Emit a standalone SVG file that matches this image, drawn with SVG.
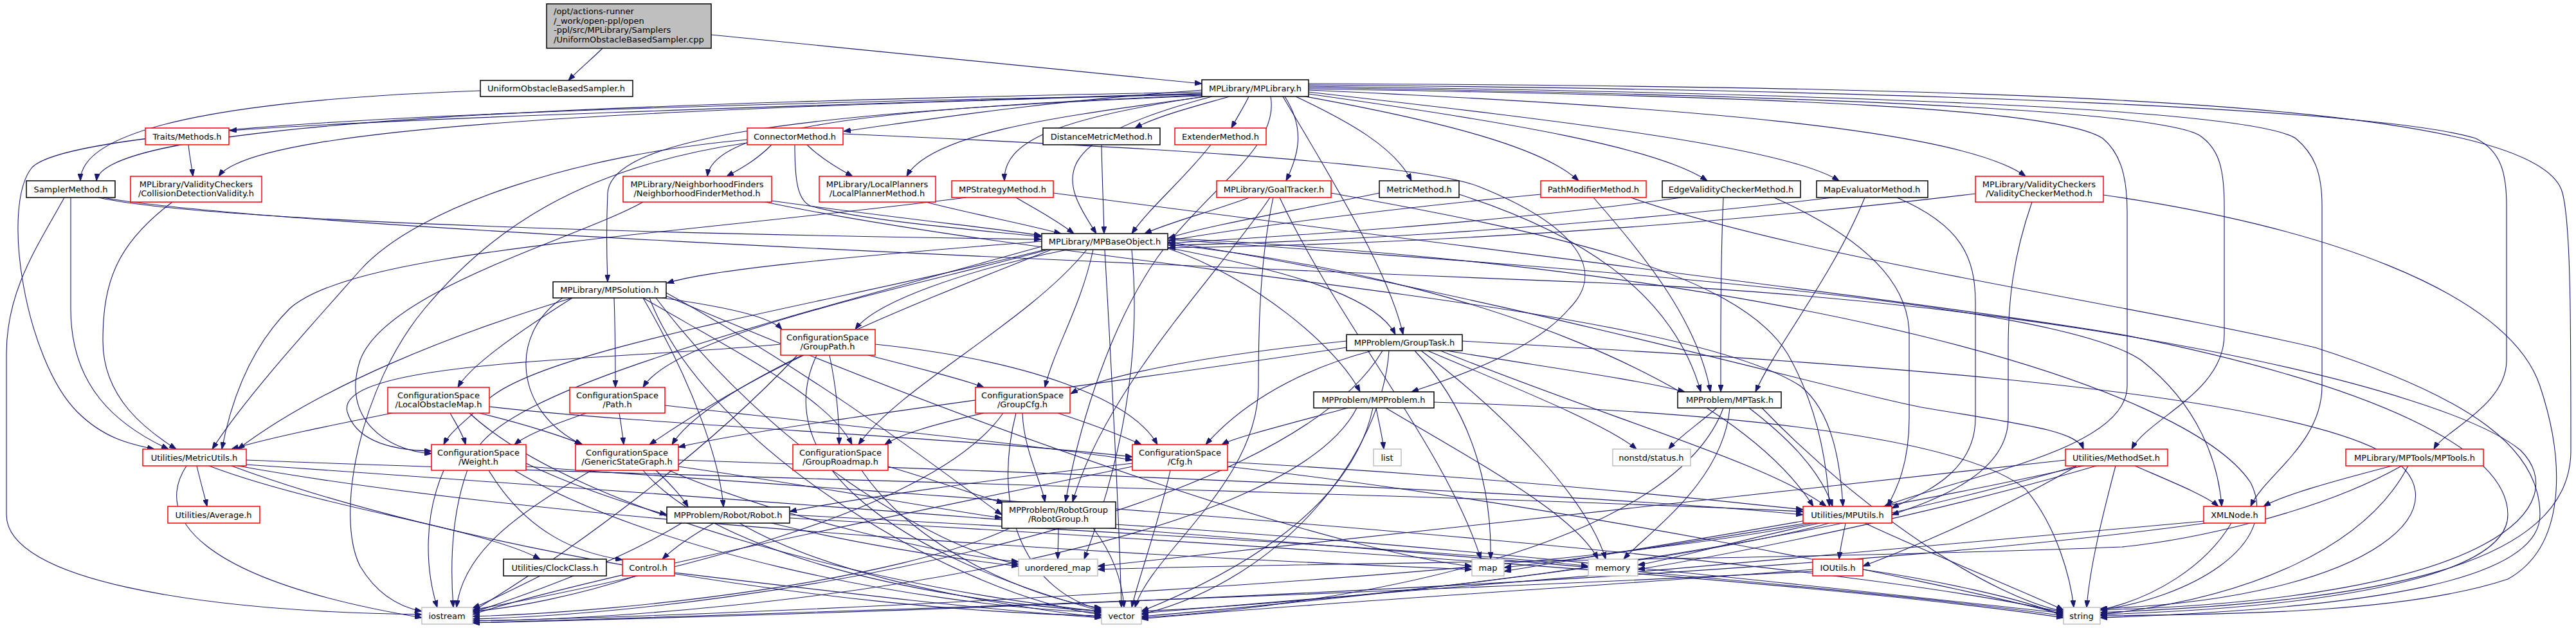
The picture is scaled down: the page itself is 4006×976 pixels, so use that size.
<svg xmlns="http://www.w3.org/2000/svg" width="4006" height="976" viewBox="0 0 4006 976">
<style>
.n rect{fill:#fff;stroke-width:1.5}
.b rect{stroke:#000}
.r rect{stroke:#f00}
.g rect{stroke:#bfbfbf}
#root rect{fill:#bfbfbf}
text{font-family:"DejaVu Sans","Liberation Sans",Arial,sans-serif;font-size:13px;fill:#000;text-anchor:middle}
text.l{text-anchor:start}
.e path{fill:none;stroke:#191970;stroke-width:1.1;marker-end:url(#a)}
</style>
<defs><marker id="a" markerUnits="userSpaceOnUse" viewBox="0 0 11 8" refX="11" refY="4" markerWidth="11" markerHeight="8" orient="auto"><path d="M0,0 L11,4 L0,8 z" fill="#191970" stroke="#191970"/></marker></defs>
<rect width="4006" height="976" fill="#fff"/>
<g id="edges" class="e">
<path d="M937,75 C920,92 900,108 884,125"/>
<path d="M1106,54 C1400,84 1650,107 1869,130"/>
<path d="M747,141 C350,155 125,200 125,281"/>
<path d="M1869,143 C1000,160 160,185 150,281"/>
<path d="M1869,145 C1200,165 600,185 357,203"/>
<path d="M1869,146 C1100,168 400,190 340,274"/>
<path d="M1869,147 C900,165 120,190 50,260 C0,320 40,560 120,640 C160,680 200,690 240,698"/>
<path d="M1869,140 C1600,160 1450,185 1312,204"/>
<path d="M1869,148 C1350,168 1110,200 1100,274"/>
<path d="M1875,150 C1700,175 1450,200 1410,274"/>
<path d="M1912,150 C1860,165 1800,180 1765,199"/>
<path d="M1942,150 C1935,165 1925,180 1915,199"/>
<path d="M1872,150 C1640,185 1560,220 1562,281"/>
<path d="M1885,150 C1620,220 1650,280 1705,363"/>
<path d="M1998,150 C2030,200 2020,240 2000,281"/>
<path d="M2015,150 C2100,190 2170,230 2195,281"/>
<path d="M2030,150 C2250,190 2400,230 2455,281"/>
<path d="M2035,146 C2350,190 2580,230 2655,281"/>
<path d="M2035,143 C2450,190 2780,230 2860,281"/>
<path d="M2035,140 C2600,165 3050,200 3150,274"/>
<path d="M1869,149 C1200,175 950,220 945,300 C942,370 944,410 945,438"/>
<path d="M1995,150 C2060,260 2160,420 2182,520"/>
<path d="M1976,150 C1990,230 1880,290 1800,400 C1730,500 1680,650 1657,780"/>
<path d="M2035,138 C2800,150 3200,170 3270,215 C3300,240 3308,280 3308,330 L3308,600 C3308,700 3050,740 2930,787"/>
<path d="M2035,136 C2800,148 3350,170 3420,210 C3450,230 3459,260 3459,320 L3459,520 C3459,610 3340,650 3315,698"/>
<path d="M2035,134 C2900,146 3500,170 3570,215 C3600,240 3611,270 3611,320 L3611,600 C3611,690 3520,740 3500,787"/>
<path d="M2035,132 C3000,140 3700,170 3850,215 C3890,235 3898,270 3898,320 L3898,560 C3898,630 3800,670 3785,698"/>
<path d="M2035,130 C3200,135 3950,160 3985,300 C3998,350 3998,500 3998,700 C3998,880 3700,935 3266,952"/>
<path d="M293,225 C295,245 298,258 300,274"/>
<path d="M268,314 C180,380 160,440 160,530 C160,620 230,670 274,698"/>
<path d="M110,307 L110,480 C110,600 180,660 262,698"/>
<path d="M100,307 C60,380 10,450 10,550 L10,800 C10,900 300,950 656,955"/>
<path d="M153,307 C300,340 900,362 1619,372"/>
<path d="M160,307 C400,350 1500,400 2500,440 C3200,470 3800,600 3920,700 C4000,780 3900,930 3266,948"/>
<path d="M1200,225 C1180,245 1160,258 1130,274"/>
<path d="M1255,225 C1275,245 1300,260 1326,274"/>
<path d="M1236,225 C1236,280 1240,310 1260,320 C1350,345 1550,360 1619,368"/>
<path d="M1162,217 C900,240 650,320 560,420 C480,510 380,620 330,698"/>
<path d="M1162,222 C900,260 760,360 660,480 C560,600 520,800 560,880 C590,930 630,945 656,950"/>
<path d="M1311,208 C1700,225 2200,250 2300,290 C2450,350 2500,420 2440,480 C2380,550 2250,590 2195,609"/>
<path d="M1200,312 C1400,340 1550,355 1619,366"/>
<path d="M1190,314 C1700,420 2600,470 2800,600 C2850,640 2862,720 2866,787"/>
<path d="M1000,314 C900,370 600,450 560,560 C530,650 600,700 671,705"/>
<path d="M1440,314 C1500,330 1580,345 1650,363"/>
<path d="M1580,307 C1610,325 1640,340 1670,363"/>
<path d="M1503,307 C1000,370 550,390 450,480 C390,540 360,620 345,698"/>
<path d="M1638,300 C2400,400 3000,470 3300,520 C3700,600 3900,700 3900,800 C3900,900 3600,945 3266,955"/>
<path d="M1713,225 C1714,280 1716,320 1717,363"/>
<path d="M1883,225 C1840,280 1790,320 1760,363"/>
<path d="M1943,307 C1880,330 1820,345 1780,363"/>
<path d="M1975,307 C1900,420 1720,600 1668,780"/>
<path d="M1980,307 C1960,400 1957,500 1957,600 C1957,750 1790,860 1765,944"/>
<path d="M1990,307 C2080,500 2250,700 2303,869"/>
<path d="M2070,300 C2400,360 2700,420 2780,550 C2820,620 2840,700 2845,787"/>
<path d="M2145,300 C2000,330 1880,350 1817,370"/>
<path d="M2269,302 C2450,360 2600,450 2645,609"/>
<path d="M2396,302 C2100,330 1900,360 1817,374"/>
<path d="M2536,307 C2800,400 3300,470 3600,540 C3850,620 3950,700 3950,800 C3950,900 3700,945 3266,960"/>
<path d="M2478,307 C2560,400 2640,500 2660,609"/>
<path d="M2615,307 C2300,350 1950,370 1817,378"/>
<path d="M2759,307 C2900,370 2969,440 2969,520 L2969,650 C2969,720 2950,760 2935,787"/>
<path d="M2680,307 C2675,420 2676,520 2676,609"/>
<path d="M2850,307 C2400,360 2000,378 1817,381"/>
<path d="M2950,307 C3050,350 3072,400 3072,470 L3072,650 C3072,740 2980,770 2942,790"/>
<path d="M2900,307 C2850,430 2760,540 2730,609"/>
<path d="M3072,301 C2500,370 2000,383 1817,385"/>
<path d="M3160,314 C3130,400 3123,470 3123,540 L3123,650 C3123,740 3000,780 2942,800"/>
<path d="M3271,303 C3600,350 3900,450 3950,600 C3990,720 3990,850 3900,900 C3750,950 3500,955 3266,957"/>
<path d="M1620,375 C1300,400 1100,420 1037,440"/>
<path d="M1660,388 C1500,420 1360,470 1330,512"/>
<path d="M1700,388 C1680,480 1640,540 1625,602"/>
<path d="M1690,388 C1600,500 1400,600 1335,691"/>
<path d="M1630,388 C1400,450 1050,520 1000,602"/>
<path d="M1625,388 C1300,470 850,540 760,620 C730,650 700,670 690,691"/>
<path d="M1635,388 C1400,480 1100,600 1045,691"/>
<path d="M1816,385 C2000,420 2140,460 2170,520"/>
<path d="M1816,386 C1950,430 2080,540 2115,609"/>
<path d="M1816,380 C2300,430 2700,600 2820,787"/>
<path d="M1816,376 C2300,450 2900,620 3000,635 C3150,660 3230,670 3240,698"/>
<path d="M1816,372 C2500,420 3200,470 3330,560 C3420,630 3450,720 3455,787"/>
<path d="M1620,383 C1200,500 800,600 740,700 C700,780 700,880 705,944"/>
<path d="M1816,370 C2800,420 3400,600 3500,750 C3550,850 3400,930 3266,948"/>
<path d="M1718,388 C1730,600 1740,800 1744,944"/>
<path d="M1760,388 C1780,600 1720,780 1686,869"/>
<path d="M890,463 C800,520 730,570 712,602"/>
<path d="M955,463 C957,520 957,570 957,602"/>
<path d="M875,463 C790,520 800,640 905,691"/>
<path d="M1030,463 C1150,480 1200,495 1216,512"/>
<path d="M1000,463 C1150,550 1290,620 1325,691"/>
<path d="M890,463 C700,520 500,600 370,698"/>
<path d="M1000,463 C1080,600 1120,720 1125,788"/>
<path d="M1036,455 C1300,600 1500,760 1558,800"/>
<path d="M1010,463 C1100,700 1500,930 1713,955"/>
<path d="M1036,460 C1600,700 2100,860 2289,880"/>
<path d="M1020,463 C1200,700 1450,850 1584,877"/>
<path d="M1350,552 C1420,570 1500,590 1530,602"/>
<path d="M1290,552 C1300,600 1305,650 1305,691"/>
<path d="M1250,552 C1150,600 1070,650 1010,691"/>
<path d="M1214,535 C950,560 520,560 540,640 C555,690 620,700 671,701"/>
<path d="M1361,535 C1600,560 1760,620 1800,691"/>
<path d="M1270,552 C1200,700 1350,850 1713,950"/>
<path d="M1240,552 C1100,700 900,850 735,950"/>
<path d="M2250,545 C2400,570 2550,590 2620,609"/>
<path d="M2094,530 C1900,550 1720,580 1665,612"/>
<path d="M2134,545 C2000,580 1920,640 1875,691"/>
<path d="M2094,540 C1700,600 1200,660 1055,695"/>
<path d="M2220,545 C2350,600 2500,660 2545,698"/>
<path d="M2240,545 C2500,650 2750,720 2840,787"/>
<path d="M2200,545 C2300,650 2320,780 2318,869"/>
<path d="M2210,545 C2350,650 2470,780 2497,869"/>
<path d="M2160,545 C2150,700 2000,900 1775,955"/>
<path d="M2274,530 C2800,560 3500,600 3700,700 C3850,780 3700,930 3266,946"/>
<path d="M2150,545 C2000,800 1200,950 735,962"/>
<path d="M610,642 C520,660 420,680 360,698"/>
<path d="M700,642 C710,660 720,675 724,691"/>
<path d="M745,642 C820,660 880,680 906,691"/>
<path d="M761,632 C1000,660 1500,680 1761,710"/>
<path d="M730,642 C900,800 1400,920 1713,950"/>
<path d="M912,642 C860,660 820,675 800,691"/>
<path d="M963,642 C966,660 968,675 970,691"/>
<path d="M1034,630 C1300,660 1600,690 1761,715"/>
<path d="M1530,642 C1450,660 1400,675 1376,691"/>
<path d="M1645,642 C1700,660 1740,675 1775,691"/>
<path d="M1590,642 C1592,700 1620,750 1625,780"/>
<path d="M1580,642 C1540,800 1600,920 1713,948"/>
<path d="M1560,642 C1450,800 1000,900 735,948"/>
<path d="M2140,634 C2145,660 2150,680 2152,698"/>
<path d="M2096,634 C2000,660 1920,680 1900,691"/>
<path d="M2155,634 C2300,720 2450,800 2485,869"/>
<path d="M2135,634 C2100,800 1900,900 1775,950"/>
<path d="M2230,625 C2700,640 3050,680 3150,760 C3200,820 3220,900 3225,944"/>
<path d="M2110,634 C2000,850 1200,960 735,965"/>
<path d="M2670,634 C2640,660 2610,680 2595,698"/>
<path d="M2720,634 C2780,680 2830,730 2850,787"/>
<path d="M2690,634 C2680,750 2560,830 2525,869"/>
<path d="M2680,634 C2600,850 2100,940 1775,960"/>
<path d="M2740,634 C2900,800 3100,930 3209,950"/>
<path d="M306,724 C312,750 318,770 322,787"/>
<path d="M325,724 C500,790 750,820 840,869"/>
<path d="M290,724 C240,800 300,900 656,960"/>
<path d="M383,715 C1000,740 2300,770 2804,795"/>
<path d="M360,724 C700,850 1300,950 1713,957"/>
<path d="M383,722 C1500,800 2800,900 3209,957"/>
<path d="M370,724 C900,820 1900,870 2289,885"/>
<path d="M690,731 C660,800 660,880 680,944"/>
<path d="M760,731 C820,830 900,860 968,870"/>
<path d="M818,720 C900,760 1000,790 1037,800"/>
<path d="M800,731 C1000,850 1400,940 1713,952"/>
<path d="M818,725 C1600,780 2800,860 3209,952"/>
<path d="M1055,725 C1300,760 1450,790 1558,805"/>
<path d="M1040,731 C1200,800 1450,860 1584,873"/>
<path d="M1000,731 C1100,850 1400,930 1713,950"/>
<path d="M920,731 C800,800 720,860 710,944"/>
<path d="M1055,715 C1800,740 2500,770 2804,800"/>
<path d="M1020,731 C1040,750 1060,770 1070,788"/>
<path d="M1381,725 C1450,745 1520,770 1561,782"/>
<path d="M1340,731 C1420,850 1600,930 1713,945"/>
<path d="M1909,718 C2300,740 2600,770 2804,792"/>
<path d="M1820,731 C1800,820 1770,900 1760,944"/>
<path d="M1761,725 C1400,800 900,900 735,955"/>
<path d="M1761,720 C1500,750 1300,780 1228,795"/>
<path d="M1909,725 C2400,780 3000,900 3209,955"/>
<path d="M1110,813 C1080,830 1050,850 1030,869"/>
<path d="M1060,813 C950,880 800,930 735,952"/>
<path d="M1150,813 C1300,900 1550,940 1713,960"/>
<path d="M1228,805 C2000,850 2800,900 3209,960"/>
<path d="M1228,800 C1800,830 2300,860 2470,880"/>
<path d="M1200,813 C1350,850 1500,870 1584,880"/>
<path d="M1646,821 C1646,840 1645,855 1645,869"/>
<path d="M1700,821 C1730,860 1745,900 1748,944"/>
<path d="M1570,821 C1400,900 1000,950 735,958"/>
<path d="M1735,815 C2300,850 2900,920 3209,953"/>
<path d="M2870,813 C2866,835 2862,850 2860,869"/>
<path d="M2810,813 C2650,840 2450,870 2339,882"/>
<path d="M2830,813 C2700,840 2600,870 2547,878"/>
<path d="M2845,813 C2600,880 2000,940 1775,958"/>
<path d="M2900,813 C3000,860 3150,920 3209,948"/>
<path d="M2820,813 C2400,900 1200,955 735,965"/>
<path d="M3320,724 C3380,750 3430,770 3450,787"/>
<path d="M3290,724 C3270,800 3250,880 3245,944"/>
<path d="M3212,715 C2800,760 2000,850 1707,880"/>
<path d="M3240,724 C2900,800 2500,860 2339,888"/>
<path d="M3260,724 C3000,800 2700,860 2547,885"/>
<path d="M3230,724 C2800,850 2200,930 1775,950"/>
<path d="M3230,724 C3100,800 2950,860 2897,880"/>
<path d="M3720,724 C3620,750 3550,770 3520,787"/>
<path d="M3745,724 C3680,850 3500,930 3266,955"/>
<path d="M3735,724 C3600,800 3400,840 3300,850 C2800,870 2000,875 1707,885"/>
<path d="M3470,813 C3430,880 3350,930 3266,948"/>
<path d="M3427,810 C3000,850 2200,920 1775,953"/>
<path d="M3430,813 C2800,900 1500,950 735,968"/>
<path d="M2819,885 C2500,910 2000,940 1775,962"/>
<path d="M2897,885 C3000,900 3150,930 3209,958"/>
<path d="M2819,888 C2000,930 1000,960 735,968"/>
<path d="M840,895 C800,915 760,935 735,945"/>
<path d="M990,895 C900,925 800,945 735,950"/>
<path d="M1049,890 C1300,920 1550,950 1713,960"/>
</g>
<g id="root" class="n b"><rect x="850" y="6" width="256" height="69"/><text class="l" x="861" y="22">/opt/actions-runner</text><text class="l" x="861" y="36.5">/_work/open-ppl/open</text><text class="l" x="861" y="51">-ppl/src/MPLibrary/Samplers</text><text class="l" x="861" y="65.5">/UniformObstacleBasedSampler.cpp</text></g>
<g id="uobs" class="n b"><rect x="747" y="125" width="237" height="25"/><text x="865" y="142">UniformObstacleBasedSampler.h</text></g>
<g id="mplibrary" class="n b"><rect x="1869" y="124" width="166" height="26"/><text x="1952" y="141.5">MPLibrary/MPLibrary.h</text></g>
<g id="traits" class="n r"><rect x="226" y="199" width="130" height="26"/><text x="291" y="216.5">Traits/Methods.h</text></g>
<g id="connector" class="n r"><rect x="1162" y="199" width="149" height="26"/><text x="1236" y="216.5">ConnectorMethod.h</text></g>
<g id="distance" class="n b"><rect x="1622" y="199" width="182" height="26"/><text x="1713" y="216.5">DistanceMetricMethod.h</text></g>
<g id="extender" class="n r"><rect x="1827" y="199" width="142" height="26"/><text x="1898" y="216.5">ExtenderMethod.h</text></g>
<g id="sampler" class="n b"><rect x="41" y="281" width="138" height="26"/><text x="110" y="298.5">SamplerMethod.h</text></g>
<g id="cdv" class="n r"><rect x="203" y="274" width="204" height="40"/><text x="305" y="290.5">MPLibrary/ValidityCheckers</text><text x="305" y="304.5">/CollisionDetectionValidity.h</text></g>
<g id="nf" class="n r"><rect x="969" y="274" width="231" height="40"/><text x="1084" y="290.5">MPLibrary/NeighborhoodFinders</text><text x="1084" y="304.5">/NeighborhoodFinderMethod.h</text></g>
<g id="lp" class="n r"><rect x="1274" y="274" width="181" height="40"/><text x="1364" y="290.5">MPLibrary/LocalPlanners</text><text x="1364" y="304.5">/LocalPlannerMethod.h</text></g>
<g id="strategy" class="n r"><rect x="1480" y="281" width="158" height="26"/><text x="1559" y="298.5">MPStrategyMethod.h</text></g>
<g id="goal" class="n r"><rect x="1892" y="281" width="178" height="26"/><text x="1981" y="298.5">MPLibrary/GoalTracker.h</text></g>
<g id="metric" class="n b"><rect x="2145" y="281" width="124" height="26"/><text x="2207" y="298.5">MetricMethod.h</text></g>
<g id="pathmod" class="n r"><rect x="2396" y="281" width="164" height="26"/><text x="2478" y="298.5">PathModifierMethod.h</text></g>
<g id="edgev" class="n b"><rect x="2585" y="281" width="215" height="26"/><text x="2692" y="298.5">EdgeValidityCheckerMethod.h</text></g>
<g id="mapev" class="n b"><rect x="2825" y="281" width="173" height="26"/><text x="2911" y="298.5">MapEvaluatorMethod.h</text></g>
<g id="vc" class="n r"><rect x="3072" y="274" width="199" height="40"/><text x="3171" y="290.5">MPLibrary/ValidityCheckers</text><text x="3171" y="304.5">/ValidityCheckerMethod.h</text></g>
<g id="base" class="n b"><rect x="1620" y="363" width="196" height="25"/><text x="1718" y="380">MPLibrary/MPBaseObject.h</text></g>
<g id="solution" class="n b"><rect x="860" y="438" width="176" height="25"/><text x="948" y="455">MPLibrary/MPSolution.h</text></g>
<g id="grouppath" class="n r"><rect x="1214" y="512" width="147" height="40"/><text x="1287" y="528.5">ConfigurationSpace</text><text x="1287" y="542.5">/GroupPath.h</text></g>
<g id="grouptask" class="n b"><rect x="2094" y="520" width="180" height="25"/><text x="2184" y="537">MPProblem/GroupTask.h</text></g>
<g id="lom" class="n r"><rect x="603" y="602" width="158" height="40"/><text x="682" y="618.5">ConfigurationSpace</text><text x="682" y="632.5">/LocalObstacleMap.h</text></g>
<g id="path" class="n r"><rect x="886" y="602" width="148" height="40"/><text x="960" y="618.5">ConfigurationSpace</text><text x="960" y="632.5">/Path.h</text></g>
<g id="groupcfg" class="n r"><rect x="1517" y="602" width="147" height="40"/><text x="1590" y="618.5">ConfigurationSpace</text><text x="1590" y="632.5">/GroupCfg.h</text></g>
<g id="mpproblem" class="n b"><rect x="2043" y="609" width="187" height="25"/><text x="2136" y="626">MPProblem/MPProblem.h</text></g>
<g id="mptask" class="n b"><rect x="2609" y="609" width="161" height="25"/><text x="2690" y="626">MPProblem/MPTask.h</text></g>
<g id="metricutils" class="n r"><rect x="222" y="698" width="161" height="26"/><text x="302" y="715.5">Utilities/MetricUtils.h</text></g>
<g id="weight" class="n r"><rect x="671" y="691" width="147" height="40"/><text x="744" y="707.5">ConfigurationSpace</text><text x="744" y="721.5">/Weight.h</text></g>
<g id="gsg" class="n r"><rect x="895" y="691" width="160" height="40"/><text x="975" y="707.5">ConfigurationSpace</text><text x="975" y="721.5">/GenericStateGraph.h</text></g>
<g id="grouproadmap" class="n r"><rect x="1233" y="691" width="148" height="40"/><text x="1307" y="707.5">ConfigurationSpace</text><text x="1307" y="721.5">/GroupRoadmap.h</text></g>
<g id="cfg" class="n r"><rect x="1761" y="691" width="148" height="40"/><text x="1835" y="707.5">ConfigurationSpace</text><text x="1835" y="721.5">/Cfg.h</text></g>
<g id="list" class="n g"><rect x="2136" y="698" width="43" height="26"/><text x="2157" y="715.5">list</text></g>
<g id="status" class="n g"><rect x="2508" y="698" width="121" height="26"/><text x="2568" y="715.5">nonstd/status.h</text></g>
<g id="methodset" class="n r"><rect x="3212" y="698" width="159" height="26"/><text x="3291" y="715.5">Utilities/MethodSet.h</text></g>
<g id="mptools" class="n r"><rect x="3648" y="698" width="214" height="26"/><text x="3755" y="715.5">MPLibrary/MPTools/MPTools.h</text></g>
<g id="average" class="n r"><rect x="261" y="787" width="143" height="26"/><text x="332" y="804.5">Utilities/Average.h</text></g>
<g id="robot" class="n b"><rect x="1037" y="788" width="191" height="25"/><text x="1132" y="805">MPProblem/Robot/Robot.h</text></g>
<g id="robotgroup" class="n b"><rect x="1558" y="780" width="177" height="41"/><text x="1646" y="797">MPProblem/RobotGroup</text><text x="1646" y="811">/RobotGroup.h</text></g>
<g id="mputils" class="n r"><rect x="2804" y="787" width="138" height="26"/><text x="2873" y="804.5">Utilities/MPUtils.h</text></g>
<g id="xmlnode" class="n r"><rect x="3427" y="787" width="96" height="26"/><text x="3475" y="804.5">XMLNode.h</text></g>
<g id="clock" class="n b"><rect x="783" y="869" width="160" height="26"/><text x="863" y="886.5">Utilities/ClockClass.h</text></g>
<g id="control" class="n r"><rect x="968" y="869" width="81" height="26"/><text x="1008" y="886.5">Control.h</text></g>
<g id="umap" class="n g"><rect x="1584" y="869" width="123" height="26"/><text x="1645" y="886.5">unordered_map</text></g>
<g id="map" class="n g"><rect x="2289" y="869" width="50" height="26"/><text x="2314" y="886.5">map</text></g>
<g id="memory" class="n g"><rect x="2470" y="869" width="77" height="26"/><text x="2508" y="886.5">memory</text></g>
<g id="ioutils" class="n r"><rect x="2819" y="869" width="78" height="26"/><text x="2858" y="886.5">IOUtils.h</text></g>
<g id="iostream" class="n g"><rect x="656" y="944" width="79" height="26"/><text x="695" y="961.5">iostream</text></g>
<g id="vector" class="n g"><rect x="1713" y="944" width="62" height="26"/><text x="1744" y="961.5">vector</text></g>
<g id="string" class="n g"><rect x="3209" y="944" width="57" height="26"/><text x="3237" y="961.5">string</text></g>
</svg>
